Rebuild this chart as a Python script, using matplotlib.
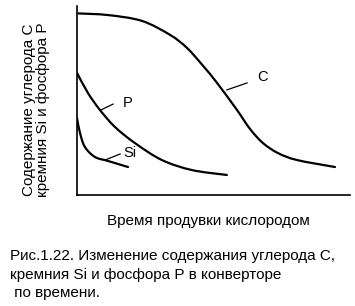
import matplotlib
matplotlib.use("Agg")
import matplotlib.pyplot as plt
from matplotlib.path import Path
from matplotlib.patches import PathPatch
import numpy as np

plt.rcParams['font.family'] = ['Liberation Sans', 'DejaVu Sans']

# values (time and content in arbitrary units 0..10)
c_time = [0, 1.14, 2.38, 3.41, 4.03, 4.62, 5.13, 5.86, 6.34, 6.81, 7.36, 8.06, 9.45]
c_val = [9.61, 9.52, 9.21, 8.47, 7.78, 6.83, 5.93, 4.50, 3.49, 2.75, 2.22, 1.85, 1.48]

p_time = [0, 0.40, 0.84, 1.39, 2.12, 3.11, 4.21, 5.49]
p_val = [6.46, 5.40, 4.50, 3.60, 2.75, 1.85, 1.32, 1.06]

si_time = [0, 0.11, 0.29, 0.66, 1.14, 1.87]
si_val = [4.07, 3.28, 2.54, 2.01, 1.80, 1.48]

# label text, leader start (on curve), leader end, text position
labels = [
    ("C", (5.49, 5.56), (6.23, 5.93), (6.78, 6.24)),
    ("P", (0.88, 4.50), (1.32, 4.81), (1.87, 4.87)),
    ("Si", (1.03, 1.85), (1.58, 2.17), (1.94, 2.22)),
]

ylabel = "Содержание углерода С\nкремния Si и фосфора Р"
xlabel = "Время продувки кислородом"
caption = ["Рис.1.22. Изменение содержания углерода С,",
           "кремния Si и фосфора Р в конверторе",
           " по времени."]


def smooth_path(xs, ys):
    # catmull-rom through the read points, drawn as bezier segments
    pts = np.column_stack([xs, ys])
    verts = [pts[0]]
    codes = [Path.MOVETO]
    n = len(pts)
    for i in range(n - 1):
        p0 = pts[i - 1] if i > 0 else pts[i]
        p1 = pts[i]
        p2 = pts[i + 1]
        p3 = pts[i + 2] if i + 2 < n else pts[i + 1]
        verts += [p1 + (p2 - p0) / 6, p2 - (p3 - p1) / 6, p2]
        codes += [Path.CURVE4] * 3
    return Path(verts, codes)


fig = plt.figure(figsize=(3.55, 3.06), dpi=100)
ax = fig.add_axes([77 / 355, 111 / 306, 273 / 355, 189 / 306])
ax.set_xlim(0, 10)
ax.set_ylim(0, 10)

for xs, ys in [(c_time, c_val), (p_time, p_val), (si_time, si_val)]:
    ax.add_patch(PathPatch(smooth_path(xs, ys), facecolor='none',
                           edgecolor='black', lw=1.6, capstyle='round'))

for txt, a, b, t in labels:
    ax.plot([a[0], b[0]], [a[1], b[1]], color='black', lw=0.9)
    ax.text(t[0], t[1], txt, fontsize=10.5, ha='center', va='center')

ax.spines['top'].set_visible(False)
ax.spines['right'].set_visible(False)
ax.spines['left'].set_linewidth(1.2)
ax.spines['bottom'].set_linewidth(1.2)
ax.set_xticks([])
ax.set_yticks([])

fig.text(36 / 355, 1 - 110 / 306, ylabel, rotation=90, fontsize=11,
         ha='center', va='center', linespacing=0.95)
fig.text(208 / 355, 1 - 225 / 306, xlabel, fontsize=11, ha='center', va='baseline')
for i, line in enumerate(caption):
    fig.text(10 / 355, 1 - (260 + 18.5 * i) / 306, line, fontsize=11,
             ha='left', va='baseline')

fig.savefig("out.png", dpi=100, facecolor='white')
